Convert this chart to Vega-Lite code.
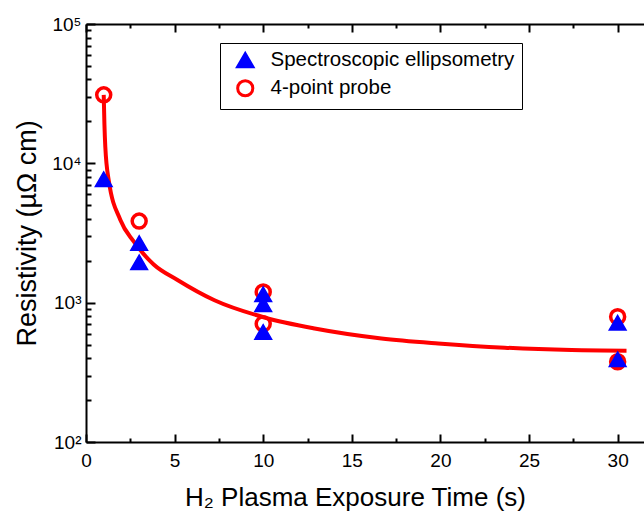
{
  "$schema": "https://vega.github.io/schema/vega-lite/v6.json",
  "width": 560,
  "height": 418,
  "autosize": "none",
  "padding": {"left": 86, "top": 24, "right": 0, "bottom": 73},
  "background": "white",
  "config": {
    "view": {"stroke": null},
    "font": "Liberation Sans",
    "axis": {
      "grid": false,
      "domainColor": "black",
      "domainWidth": 2,
      "tickColor": "black",
      "tickWidth": 2,
      "labelColor": "black",
      "labelFont": "Liberation Sans",
      "labelFontSize": 19,
      "titleFont": "Liberation Sans",
      "titleFontWeight": "normal",
      "titleColor": "black",
      "titleFontSize": 26
    },
    "legend": {
      "labelFont": "Liberation Sans",
      "labelFontSize": 20.5,
      "labelColor": "black",
      "labelLimit": 400
    }
  },
  "datasets": {
    "curve": [
      {"time": 1.0, "resistivity": 31000},
      {"time": 1.04, "resistivity": 19000},
      {"time": 1.09, "resistivity": 13100},
      {"time": 1.28, "resistivity": 7590},
      {"time": 1.94, "resistivity": 3920},
      {"time": 2.69, "resistivity": 2750},
      {"time": 3.82, "resistivity": 1880},
      {"time": 5.14, "resistivity": 1460},
      {"time": 7.25, "resistivity": 1040},
      {"time": 10.07, "resistivity": 783},
      {"time": 12.9, "resistivity": 653},
      {"time": 16.67, "resistivity": 554},
      {"time": 19.87, "resistivity": 510},
      {"time": 23.63, "resistivity": 475},
      {"time": 27.4, "resistivity": 457},
      {"time": 30.5, "resistivity": 452}
    ],
    "points": [
      {"time": 1, "resistivity": 31000, "method": "4-point probe"},
      {"time": 3, "resistivity": 3850, "method": "4-point probe"},
      {"time": 10, "resistivity": 1195, "method": "4-point probe"},
      {"time": 10, "resistivity": 705, "method": "4-point probe"},
      {"time": 30, "resistivity": 792, "method": "4-point probe"},
      {"time": 30, "resistivity": 377, "method": "4-point probe"},
      {"time": 1, "resistivity": 7700, "method": "Spectroscopic ellipsometry"},
      {"time": 3, "resistivity": 2680, "method": "Spectroscopic ellipsometry"},
      {"time": 3, "resistivity": 1950, "method": "Spectroscopic ellipsometry"},
      {"time": 10, "resistivity": 1150, "method": "Spectroscopic ellipsometry"},
      {"time": 10, "resistivity": 975, "method": "Spectroscopic ellipsometry"},
      {"time": 10, "resistivity": 617, "method": "Spectroscopic ellipsometry"},
      {"time": 30, "resistivity": 718, "method": "Spectroscopic ellipsometry"},
      {"time": 30, "resistivity": 392, "method": "Spectroscopic ellipsometry"}
    ]
  },
  "layer": [
    {
      "data": {"name": "curve"},
      "mark": {"type": "line", "color": "#ff0000", "strokeWidth": 4, "interpolate": "monotone"},
      "encoding": {
        "x": {
          "field": "time", "type": "quantitative",
          "scale": {"domain": [0, 31.6], "nice": false, "zero": false},
          "axis": {
            "orient": "bottom",
            "values": [0, 5, 10, 15, 20, 25, 30],
            "tickSize": -8,
            "labelPadding": 17,
            "labelFlush": false,
            "labelOverlap": false,
            "title": "H₂ Plasma Exposure Time (s)",
            "titlePadding": 14,
            "titleX": 269
          }
        },
        "y": {
          "field": "resistivity", "type": "quantitative",
          "scale": {"type": "log", "domain": [100, 100000], "nice": false},
          "axis": {
            "orient": "left",
            "values": [100, 1000, 10000, 100000],
            "tickSize": -9,
            "labelExpr": "datum.value === 100 ? '10²' : datum.value === 1000 ? '10³' : datum.value === 10000 ? '10⁴' : '10⁵'",
            "labelPadding": 14,
            "labelFlush": false,
            "labelOverlap": false,
            "title": "Resistivity (µΩ cm)",
            "titleFontSize": 27,
            "titlePadding": 10
          }
        }
      }
    },
    {
      "data": {"name": "points"},
      "transform": [{"filter": "datum.method === '4-point probe'"}],
      "mark": {"type": "point", "size": 196, "strokeWidth": 3.5, "opacity": 1},
      "encoding": {
        "x": {
          "field": "time", "type": "quantitative",
          "axis": {
            "orient": "top",
            "values": [0, 5, 10, 15, 20, 25, 30],
            "tickSize": -8,
            "labels": false,
            "title": null
          }
        },
        "y": {
          "field": "resistivity", "type": "quantitative",
          "axis": {
            "orient": "left",
            "values": [200, 300, 400, 500, 600, 700, 800, 900, 2000, 3000, 4000, 5000, 6000, 7000, 8000, 9000, 20000, 30000, 40000, 50000, 60000, 70000, 80000, 90000],
            "tickSize": -5,
            "labels": false,
            "domain": false,
            "title": null
          }
        },
        "shape": {
          "field": "method", "type": "nominal",
          "scale": {"domain": ["Spectroscopic ellipsometry", "4-point probe"], "range": ["triangle-up", "circle"]},
          "legend": {
            "orient": "none", "legendX": 134, "legendY": 19, "title": null,
            "strokeColor": "black", "padding": 7,
            "symbolSize": 230, "symbolStrokeWidth": 3, "rowPadding": 1, "labelOffset": 15, "symbolOffset": 8
          }
        },
        "fill": {
          "field": "method", "type": "nominal",
          "scale": {"domain": ["Spectroscopic ellipsometry", "4-point probe"], "range": ["#0000ff", "transparent"]}
        },
        "stroke": {
          "field": "method", "type": "nominal",
          "scale": {"domain": ["Spectroscopic ellipsometry", "4-point probe"], "range": ["#0000ff", "#ff0000"]}
        }
      }
    },
    {
      "data": {"name": "points"},
      "transform": [{"filter": "datum.method === 'Spectroscopic ellipsometry' && datum.time < 5"}],
      "mark": {"type": "point", "size": 280, "strokeWidth": 1.5, "opacity": 1},
      "encoding": {
        "x": {
          "field": "time", "type": "quantitative",
          "axis": {
            "orient": "bottom",
            "values": [2.5, 7.5, 12.5, 17.5, 22.5, 27.5],
            "tickSize": -4,
            "labels": false,
            "domain": false,
            "title": null
          }
        },
        "y": {"field": "resistivity", "type": "quantitative", "axis": null},
        "shape": {"field": "method", "type": "nominal"},
        "fill": {"field": "method", "type": "nominal"},
        "stroke": {"field": "method", "type": "nominal"}
      }
    },
    {
      "data": {"name": "points"},
      "transform": [{"filter": "datum.method === 'Spectroscopic ellipsometry' && datum.time >= 5"}],
      "mark": {"type": "point", "size": 280, "strokeWidth": 1.5, "opacity": 1},
      "encoding": {
        "x": {
          "field": "time", "type": "quantitative",
          "axis": {
            "orient": "top",
            "values": [2.5, 7.5, 12.5, 17.5, 22.5, 27.5],
            "tickSize": -4,
            "labels": false,
            "domain": false,
            "title": null
          }
        },
        "y": {"field": "resistivity", "type": "quantitative", "axis": null},
        "shape": {"field": "method", "type": "nominal"},
        "fill": {"field": "method", "type": "nominal"},
        "stroke": {"field": "method", "type": "nominal"}
      }
    }
  ],
  "resolve": {"axis": {"x": "independent", "y": "independent"}}
}
